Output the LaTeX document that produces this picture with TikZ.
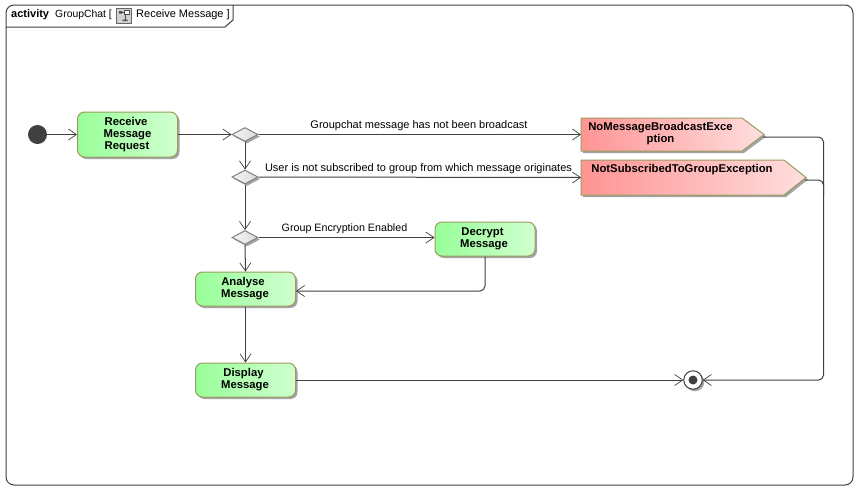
\documentclass[tikz,border=0pt]{standalone}
\usepackage{fontspec}
\setmainfont{Liberation Sans}
\usetikzlibrary{arrows.meta,shapes.geometric,shadows}
\definecolor{edgecol}{HTML}{404040}
\definecolor{nodeborder}{HTML}{9C9C60}
\tikzset{
  x=1pt,y=-1pt,
  softshadow/.style={drop shadow={shadow xshift=2pt,shadow yshift=-2pt,fill=black!45,opacity=.8}},
  actionbox/.style={draw=nodeborder,line width=1pt,rounded corners=7pt,
    left color={rgb,255:red,152;green,255;blue,152},right color={rgb,255:red,208;green,255;blue,208},
    minimum width=100pt,align=center,inner sep=0pt,font=\fontsize{11.3}{12}\selectfont\bfseries,softshadow},
  decisionnode/.style={diamond,draw=black!50,line width=1pt,aspect=1.85,minimum width=26pt,minimum height=14pt,inner sep=0pt,
    left color=black!4,right color=black!14,softshadow},
  flow/.style={draw=edgecol,line width=1pt,rounded corners=5pt,-{Straight Barb[length=8pt,width=11pt,line width=.7pt,color=edgecol]}},
  plainflow/.style={draw=edgecol,line width=1pt,rounded corners=5pt},
  signalshape/.style={draw=nodeborder,line width=1pt,left color={rgb,255:red,255;green,148;blue,148},right color={rgb,255:red,255;green,222;blue,222},softshadow},
  sigtext/.style={font=\fontsize{11.3}{12}\selectfont\bfseries,inner sep=0pt},
  lbl/.style={font=\fontsize{11}{12}\selectfont,inner sep=0pt},
}
\begin{document}
\begin{tikzpicture}
\useasboundingbox (0,0) rectangle (868,499);
\fill[white] (0,0) rectangle (868,499);
% frame
\draw[edgecol,line width=1pt,rounded corners=8pt] (6,5) rectangle (853,485);
\draw[edgecol,line width=1pt] (6,27) -- (225,27) -- (233,20) -- (233,5);
\node[lbl,anchor=west,font=\fontsize{11}{12}\selectfont\bfseries] (kind) at (11,15) {activity};
\node[lbl,anchor=west,font=\fontsize{10.4}{12}\selectfont] (owner) at (55,15) {GroupChat [};
\node[lbl,anchor=west] (title) at (136,15) {Receive Message ]};
% icon
\draw[black!60,fill=black!18,line width=1pt] (116.5,8.5) rectangle (131.5,23.5);
\fill[black!70] (119,11) rectangle (122,13.5) (122.5,19.5) rectangle (127.5,21);
\fill[white,draw=black!70,line width=.5pt] (124,10.5) rectangle (129,14);
\draw[black!70,line width=.7pt] (122,12) -- (124,12) (125,14) -- (125,19.5);
% nodes
\node[circle,fill=edgecol,minimum size=19pt,inner sep=0pt] (start) at (37.5,134.5) {};
\node[actionbox,minimum height=45pt] (receive) at (127.5,134.5) {Receive\hspace*{3pt}\\Message\hspace*{3pt}\\Request\hspace*{1pt}};
\node[decisionnode] (d1) at (245,134.5) {};
\node[decisionnode] (d2) at (245,177) {};
\node[decisionnode] (d3) at (245,237.5) {};
\node[actionbox,minimum height=34pt] (decrypt) at (485,239) {Decrypt\hspace*{5pt}\\Message\hspace*{2pt}};
\node[actionbox,minimum height=34pt] (analyse) at (245.5,289) {Analyse\hspace*{5pt}\\Message\hspace*{1pt}};
\node[actionbox,minimum height=34pt] (display) at (245.5,380) {Display\hspace*{4pt}\\Message\hspace*{1pt}};
% exception signals
\path[signalshape] (581,118) -- (742,118) -- (764,134.5) -- (742,151) -- (581,151) -- cycle;
\path[signalshape] (581,160) -- (784,160) -- (806,177.5) -- (784,195) -- (581,195) -- cycle;
\coordinate (e1in) at (581,134.5);
\coordinate (e2in) at (581,177.5);
\coordinate (e1tip) at (763,137);
\coordinate (e2tip) at (805,180);
\coordinate (rail) at (823.5,380);
\node[sigtext,align=center] (e1text) at (660.5,133.5) {NoMessageBroadcastExce\\ption};
\node[sigtext] (e2text) at (682,170) {NotSubscribedToGroupException};
\node[circle,draw=edgecol,fill=white,line width=1pt,minimum size=18.5pt,inner sep=0pt,softshadow] (final) at (693,380) {};
\fill[edgecol] (final.center) circle (4.5);
% connectors
\draw[flow] (start) -- (receive);
\draw[flow] (receive.east) -- (d1.west);
\draw[flow] (d1.east) -- (e1in);
\draw[flow] (d1.south) -- (d2.north);
\draw[flow] (d2.east) -- (e2in);
\draw[flow] (d2.south) -- (d3.north);
\draw[flow] (d3.east) -- (decrypt.west |- d3.east);
\draw[flow] (d3.south) -- (analyse.north);
\draw[flow] (decrypt.south) |- ([yshift=-2pt]analyse.east);
\draw[flow] (analyse.south) -- (display.north);
\draw[flow] (display.east) -- (final.west);
\draw[flow] (e1tip) -| (rail) -- (final.east);
\draw[plainflow] (e2tip) -- (823.5,180) -- (823.5,195);
% labels
\node[lbl] (l1) at (419,126) {Groupchat message has not been broadcast};
\node[lbl] (l2) at (418.5,168.5) {User is not subscribed to group from which message originates};
\node[lbl,font=\fontsize{10.7}{12}\selectfont] (l3) at (344.5,228.5) {Group Encryption Enabled};
\end{tikzpicture}
\end{document}
